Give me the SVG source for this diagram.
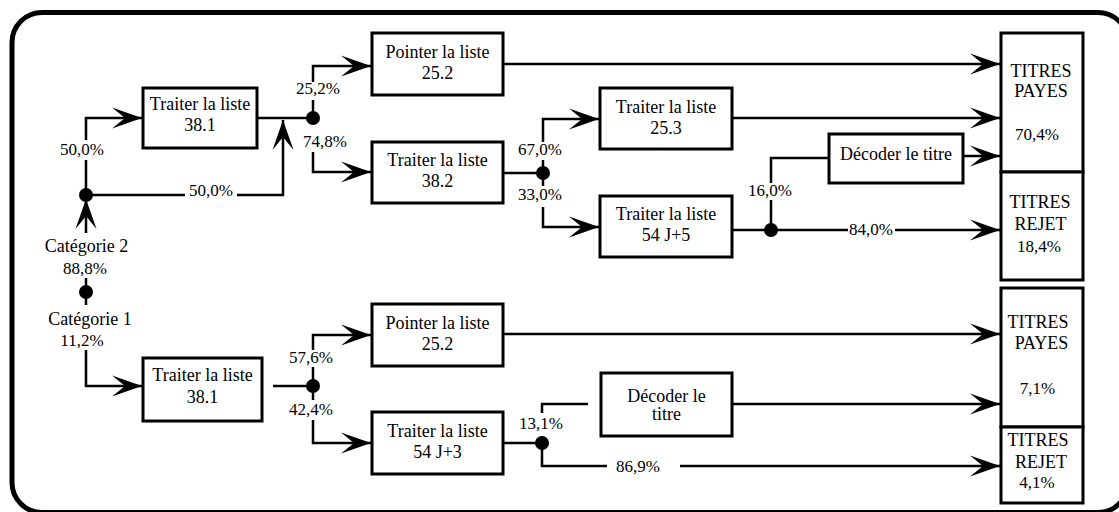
<svg xmlns="http://www.w3.org/2000/svg" width="1119" height="512" viewBox="0 0 1119 512" font-family="'Liberation Serif', 'Times New Roman', 'DejaVu Serif', serif">
<defs>
<style>
.box{fill:#fff;stroke:#000;stroke-width:3}
.ln{fill:none;stroke:#000;stroke-width:2.5}
.arr{marker-end:url(#ah)}
.dot{fill:#000}
text{font-family:'Liberation Serif', 'Times New Roman', 'DejaVu Serif', serif;font-size:18px;fill:#000;text-anchor:middle}
.pct{font-size:17px}
</style>
<marker id="ah" markerUnits="userSpaceOnUse" viewBox="-31 -11 32 22" markerWidth="32" markerHeight="22" refX="0" refY="0" orient="auto">
<path d="M0,0 L-30,-10.5 L-17,0 L-30,10.5 Z" fill="#000"/>
</marker>
</defs>
<rect x="0" y="0" width="1119" height="512" fill="#fff"/>
<rect x="12" y="12.5" width="1116" height="500" rx="30" ry="30" fill="none" stroke="#000" stroke-width="5"/>

<g id="connectors">
<path class="ln arr" d="M86,233 V199"/>
<path class="ln" d="M86,195 V160"/>
<path class="ln arr" d="M86,140 V118 H142"/>
<path class="ln" d="M86,195 H185"/>
<path class="ln arr" d="M237,195 H283 V120"/>
<path class="ln" d="M257,118 H313"/>
<path class="ln arr" d="M313,82 V66 H371"/>
<path class="ln" d="M313,100 V118"/>
<path class="ln arr" d="M313,152 V172 H371"/>
<path class="ln arr" d="M503,64 H1000"/>
<path class="ln" d="M503,173 H543"/>
<path class="ln" d="M543,160 V186"/>
<path class="ln arr" d="M543,142 V119 H599"/>
<path class="ln arr" d="M543,207 V227 H599"/>
<path class="ln arr" d="M732,118 H1000"/>
<path class="ln" d="M732,230 H848"/>
<path class="ln arr" d="M895,230 H1000"/>
<path class="ln" d="M771,230 V200"/>
<path class="ln" d="M771,183 V158 H829"/>
<path class="ln arr" d="M963,156 H1000"/>
<circle class="dot" cx="86" cy="195" r="7"/>
<circle class="dot" cx="313" cy="118" r="7"/>
<circle class="dot" cx="543" cy="173" r="7"/>
<circle class="dot" cx="771" cy="230" r="7"/>
<text class="pct" x="82" y="155">50,0%</text>
<text class="pct" x="211" y="196">50,0%</text>
<text class="pct" x="318" y="94">25,2%</text>
<text class="pct" x="325" y="147">74,8%</text>
<text class="pct" x="540" y="155">67,0%</text>
<text class="pct" x="540" y="200">33,0%</text>
<text class="pct" x="770" y="196">16,0%</text>
<text class="pct" x="871" y="235">84,0%</text>
<path class="ln" d="M86,278 V305"/>
<circle class="dot" cx="86" cy="292" r="7"/>
<path class="ln arr" d="M86,350 V386 H142"/>
<path class="ln" d="M273,386 H313"/>
<path class="ln arr" d="M313,350 V335 H371"/>
<path class="ln" d="M313,367 V400"/>
<path class="ln arr" d="M313,420 V443 H371"/>
<path class="ln arr" d="M503,334 H1000"/>
<path class="ln" d="M503,443 H542"/>
<path class="ln" d="M542,413 V404 H588"/>
<path class="ln" d="M542,443 V466 H607"/>
<path class="ln arr" d="M680,466 H1000"/>
<path class="ln arr" d="M732,404 H1000"/>
<circle class="dot" cx="313" cy="386" r="7"/>
<circle class="dot" cx="542" cy="443" r="7"/>
<text class="pct" x="311" y="363">57,6%</text>
<text class="pct" x="311" y="415">42,4%</text>
<text class="pct" x="541" y="429">13,1%</text>
<text class="pct" x="638" y="472">86,9%</text>
</g>

<g id="cat2"><text x="86.5" y="252">Catégorie 2</text><text class="pct" x="85" y="274">88,8%</text></g>
<g id="cat1"><text x="90" y="325">Catégorie 1</text><text class="pct" x="82" y="346">11,2%</text></g>

<g id="t381a"><rect class="box" x="143" y="88" width="114" height="60"/><text x="200" y="110">Traiter la liste</text><text x="200" y="131">38.1</text></g>
<g id="p252a"><rect class="box" x="372" y="33" width="131" height="62"/><text x="437.5" y="58">Pointer la liste</text><text x="437.5" y="79">25.2</text></g>
<g id="t382"><rect class="box" x="372" y="142" width="131" height="61"/><text x="437.5" y="166">Traiter la liste</text><text x="437.5" y="187">38.2</text></g>
<g id="t253"><rect class="box" x="600" y="88" width="132" height="61"/><text x="666" y="113">Traiter la liste</text><text x="666" y="134">25.3</text></g>
<g id="t54j5"><rect class="box" x="600" y="196" width="132" height="61"/><text x="666" y="220">Traiter la liste</text><text x="666" y="241">54 J+5</text></g>
<g id="dec1"><rect class="box" x="829" y="134" width="134" height="49"/><text x="896" y="160">Décoder le titre</text></g>
<g id="payes1"><rect class="box" x="1001" y="33" width="82" height="139"/><text x="1041" y="77">TITRES</text><text x="1041" y="97">PAYES</text><text class="pct" x="1037" y="140">70,4%</text></g>
<g id="rejet1"><rect class="box" x="1001" y="172" width="82" height="108"/><text x="1040" y="208">TITRES</text><text x="1040.5" y="230">REJET</text><text class="pct" x="1039" y="252">18,4%</text></g>

<g id="t381b"><rect class="box" x="143" y="358" width="119" height="63"/><text x="202.5" y="381">Traiter la liste</text><text x="202.5" y="403">38.1</text></g>
<g id="p252b"><rect class="box" x="372" y="304" width="131" height="62"/><text x="437.5" y="329">Pointer la liste</text><text x="437.5" y="350">25.2</text></g>
<g id="t54j3"><rect class="box" x="372" y="412" width="131" height="62"/><text x="437.5" y="437">Traiter la liste</text><text x="437.5" y="458">54 J+3</text></g>
<g id="dec2"><rect class="box" x="601" y="373" width="131" height="63"/><text x="666.5" y="402">Décoder le</text><text x="666.5" y="420">titre</text></g>
<g id="payes2"><rect class="box" x="1001" y="288" width="82" height="139"/><text x="1038" y="328">TITRES</text><text x="1041.5" y="349">PAYES</text><text class="pct" x="1037.5" y="394">7,1%</text></g>
<g id="rejet2"><rect class="box" x="1001" y="427" width="82" height="76"/><text x="1038" y="446">TITRES</text><text x="1041" y="468">REJET</text><text class="pct" x="1037" y="488">4,1%</text></g>
</svg>
